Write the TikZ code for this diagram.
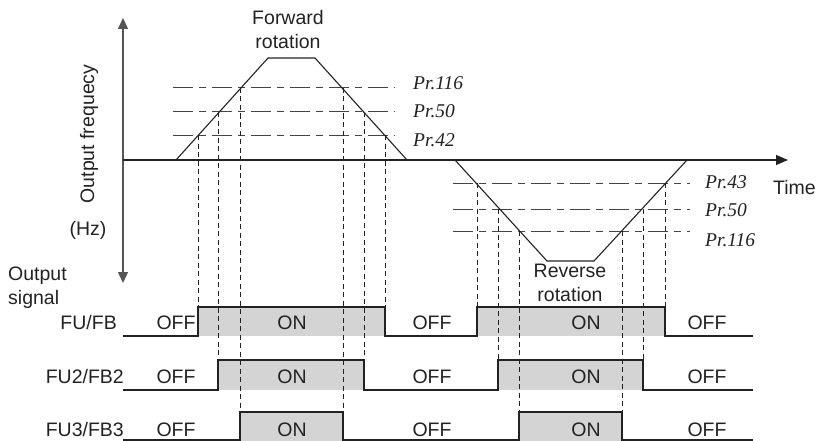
\documentclass[tikz,border=0pt]{standalone}
\usepackage{fontspec}
\setmainfont{Liberation Sans}
\newfontfamily\prfont{Liberation Serif}
\usepackage{tikz}
\usetikzlibrary{arrows.meta}
\definecolor{tdLine}{HTML}{222222}
\definecolor{tdAxis}{HTML}{555555}
\definecolor{tdLevel}{HTML}{444444}
\definecolor{tdOn}{HTML}{D4D4D4}

\begin{document}
\begin{tikzpicture}[x=1pt,y=-1pt,
    lbl/.style={text=tdLine, font=\fontsize{19.5}{24}\selectfont, inner sep=0pt, align=center},
    prlbl/.style={text=tdLine, font=\prfont\itshape\fontsize{19.5}{22}\selectfont, inner sep=0pt, anchor=west},
    axisline/.style={tdAxis, line width=1.5pt, {Triangle[length=11pt,width=10pt]}-{Triangle[length=11pt,width=10pt]}},
    timeline/.style={tdLine, line width=1.2pt, -{Triangle[length=12pt,width=10pt]}},
    curve/.style={tdLine, line width=1.1pt, line join=miter},
    level/.style={tdLevel, line width=1pt, dash pattern=on 20pt off 6pt on 7pt off 6pt},
    drop/.style={tdLine, line width=0.8pt, dash pattern=on 5pt off 3.5pt},
    sig/.style={tdLine, line width=1.2pt}]
    \useasboundingbox (0,0) rectangle (818,441);

    % Axes
    \coordinate (ytop) at (123,18);
    \coordinate (ybot) at (123,283);
    \coordinate (t0) at (123,160);
    \coordinate (tend) at (788,160);
    \draw[axisline] (ybot) -- (ytop);
    \draw[timeline] (t0) -- (tend);

    % Level lines
    \draw[level] (173,88) -- (395,88);
    \draw[level] (173,112) -- (395,112);
    \draw[level] (173,135) -- (395,135);
    \draw[level] (453,183) -- (690,183);
    \draw[level] (453,209) -- (690,209);
    \draw[level] (453,231) -- (690,231);

    % Forward and reverse rotation
    \draw[curve] (176,160) -- (268,58) -- (315,58) -- (407,160);
    \draw[curve] (455,160) -- (547,261) -- (594,261) -- (687,160);

    % Crossing points
    \coordinate (f42r) at (198,135);
    \coordinate (f50r) at (218,112);
    \coordinate (f116r) at (240,88);
    \coordinate (f116f) at (343,88);
    \coordinate (f50f) at (364,112);
    \coordinate (f42f) at (385,135);
    \coordinate (r43f) at (477,183);
    \coordinate (r50f) at (498,209);
    \coordinate (r116f) at (519,231);
    \coordinate (r116r) at (622,231);
    \coordinate (r50r) at (643,209);
    \coordinate (r43r) at (665,183);

    % Signal levels
    \coordinate (fuHigh) at (0,307);
    \coordinate (fu2High) at (0,360);
    \coordinate (fu3High) at (0,412);

    % ON areas
    \foreach \lo/\hi/\a/\b/\c/\d in {336/307/198/385/477/665, 390/360/218/364/498/643, 441/412/240/343/519/622} {
        \fill[tdOn] (\a,\hi) rectangle (\b,\lo);
        \fill[tdOn] (\c,\hi) rectangle (\d,\lo);
    }

    % Drop lines
    \foreach \p in {f42r,f42f,r43f,r43r}
        \draw[drop] (\p) -- (\p |- fuHigh);
    \foreach \p in {f50r,f50f,r50f,r50r}
        \draw[drop] (\p) -- (\p |- fu2High);
    \foreach \p in {f116r,f116f,r116f,r116r}
        \draw[drop] (\p) -- (\p |- fu3High);

    % Output signals
    \foreach \lo/\hi/\a/\b/\c/\d in {336/307/198/385/477/665, 390/360/218/364/498/643, 440/412/240/343/519/622} {
        \draw[sig] (123,\lo) -- (\a,\lo) -- (\a,\hi) -- (\b,\hi) -- (\b,\lo) -- (\c,\lo) -- (\c,\hi) -- (\d,\hi) -- (\d,\lo) -- (753,\lo);
    }

    % Labels
    \node[lbl] (fwd) at (288,30) {Forward\\rotation};
    \node[lbl] (rev) at (570,283) {Reverse\\rotation};
    \node[lbl, rotate=90] (freq) at (89,134) {Output frequecy};
    \node[lbl] (hz) at (88,230) {(Hz)};
    \node[lbl, anchor=west] (time) at (773,188) {Time};
    \node[lbl, anchor=north west, align=left] (outsig) at (8,267) {Output\\signal};
    \node[prlbl] (pf116) at (413,83) {Pr.116};
    \node[prlbl] (pf50) at (413,111) {Pr.50};
    \node[prlbl] (pf42) at (413,140) {Pr.42};
    \node[prlbl] (pr43) at (705,182) {Pr.43};
    \node[prlbl] (pr50) at (705,210) {Pr.50};
    \node[prlbl] (pr116) at (705,240) {Pr.116};
    \node[lbl, anchor=east] (fu) at (117,323) {FU/FB};
    \node[lbl, anchor=east] (fu2) at (124,377) {FU2/FB2};
    \node[lbl, anchor=east] (fu3) at (124,430) {FU3/FB3};
    \foreach \y/\n in {323/a, 377/b, 430/c} {
        \node[lbl] (off1\n) at (176,\y) {OFF};
        \node[lbl] (on1\n) at (292,\y) {ON};
        \node[lbl] (off2\n) at (432,\y) {OFF};
        \node[lbl] (on2\n) at (586,\y) {ON};
        \node[lbl] (off3\n) at (707,\y) {OFF};
    }
\end{tikzpicture}
\end{document}
